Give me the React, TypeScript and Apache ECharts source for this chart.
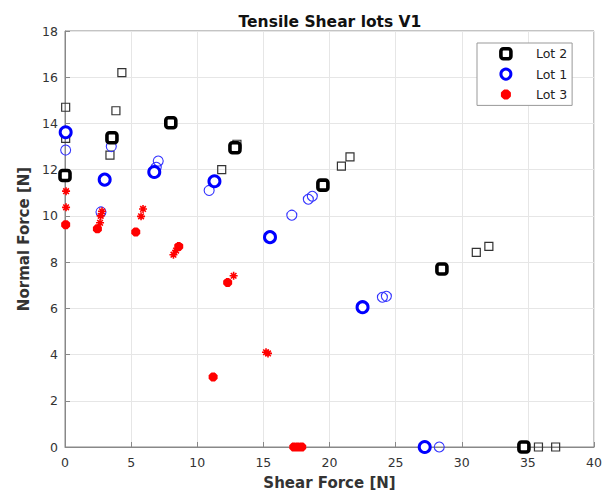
import React, { useEffect, useRef } from "react";
import * as echarts from "echarts";

const lot2Bold = [[0, 11.75], [3.55, 13.38], [8.0, 14.03], [12.85, 12.95], [19.5, 11.33], [28.5, 7.7], [34.7, 0]];
const lot2Thin = [[0.05, 14.7], [0.05, 13.35], [4.3, 16.2], [3.85, 14.55], [3.4, 12.63], [11.85, 12.0], [13.0, 13.1], [20.9, 12.15], [21.55, 12.55], [31.1, 8.42], [32.05, 8.68], [35.8, 0], [37.1, 0]];
const lot1Bold = [[0.05, 13.62], [3.0, 11.57], [6.75, 11.9], [11.3, 11.5], [15.5, 9.08], [22.5, 6.05], [27.2, 0]];
const lot1Thin = [[0.05, 12.85], [3.5, 13.0], [7.05, 12.37], [6.9, 12.1], [10.9, 11.1], [17.15, 10.03], [18.4, 10.72], [18.7, 10.85], [24.0, 6.48], [24.3, 6.52], [28.3, 0], [2.72, 10.17]];
const lot3Bold = [[0.05, 9.62], [2.45, 9.44], [5.35, 9.3], [8.6, 8.68], [12.3, 7.12], [11.2, 3.03], [17.3, 0], [17.6, 0], [17.9, 0]];
const lot3Thin = [[0.08, 11.07], [0.08, 10.37], [2.7, 10.0], [2.65, 9.7], [2.8, 10.2], [5.9, 10.3], [5.75, 9.98], [8.2, 8.32], [8.4, 8.5], [12.75, 7.41], [15.2, 4.1], [15.35, 4.05]];
const legendNames = ["Lot 2", "Lot 1", "Lot 3"];

const star = "path://M0,5L10,5M5,0L5,10M1.5,1.5L8.5,8.5M1.5,8.5L8.5,1.5";
const FONT = "DejaVu Sans, Verdana, sans-serif";

export default function App() {
  const ref = useRef<HTMLDivElement>(null);
  useEffect(() => {
    const chart = echarts.init(ref.current!, null, { renderer: "svg" });
    chart.setOption({
      animation: false,
      backgroundColor: "#fff",
      title: {
        text: "Tensile Shear lots V1",
        left: 325,
        textAlign: "center",
        top: 9,
        textStyle: { fontFamily: FONT, fontSize: 15.5, fontWeight: "bold", color: "#111" },
      },
      legend: {
        data: [
          { name: legendNames[0], icon: "roundRect", itemStyle: { color: "#fff", borderColor: "#000", borderWidth: 3.6 } },
          { name: legendNames[1], icon: "circle", itemStyle: { color: "#fff", borderColor: "#0000ff", borderWidth: 3 } },
          { name: legendNames[2], icon: star, itemStyle: { color: "#ff0000", borderColor: "#ff0000", borderWidth: 3.8 } },
        ],
        orient: "vertical",
        left: 477,
        top: 43,
        backgroundColor: "#fff",
        borderColor: "#999",
        borderWidth: 1,
        borderRadius: 0,
        padding: [4, 5, 4, 22],
        itemGap: 7,
        itemWidth: 10,
        itemHeight: 10,
        textStyle: { fontFamily: FONT, fontSize: 12.5, color: "#222", padding: [0, 0, 0, 20] },
      },
      grid: { left: 65, right: 14, top: 31, bottom: 48, show: true, borderColor: "#888", borderWidth: 1 },
      xAxis: {
        type: "value",
        min: 0,
        max: 40,
        interval: 5,
        name: "Shear Force [N]",
        nameLocation: "middle",
        nameGap: 28,
        nameTextStyle: { fontFamily: FONT, fontSize: 15, fontWeight: "bold", color: "#333" },
        axisLine: { show: true, lineStyle: { color: "#888" } },
        axisTick: { show: true, inside: true, length: 5, lineStyle: { color: "#888" } },
        axisLabel: { fontFamily: FONT, fontSize: 12.5, color: "#333", margin: 9 },
        splitLine: { show: true, lineStyle: { color: "#e6e6e6" } },
      },
      yAxis: {
        type: "value",
        min: 0,
        max: 18,
        interval: 2,
        name: "Normal Force [N]",
        nameLocation: "middle",
        nameGap: 32,
        nameTextStyle: { fontFamily: FONT, fontSize: 15, fontWeight: "bold", color: "#333" },
        axisLine: { show: true, lineStyle: { color: "#888" } },
        axisTick: { show: true, inside: true, length: 5, lineStyle: { color: "#888" } },
        axisLabel: { fontFamily: FONT, fontSize: 12.5, color: "#333", margin: 7 },
        splitLine: { show: true, lineStyle: { color: "#e6e6e6" } },
      },
      series: [
        {
          name: "Lot 2", type: "scatter", data: lot2Bold, symbol: "roundRect", symbolSize: 10, z: 3,
          itemStyle: { color: "#fff", borderColor: "#000", borderWidth: 3.6, opacity: 1 },
        },
        {
          name: "Lot 1", type: "scatter", data: lot1Bold, symbol: "circle", symbolSize: 11, z: 3,
          itemStyle: { color: "#fff", borderColor: "#0000ff", borderWidth: 3, opacity: 1 },
        },
        {
          name: "Lot 3", type: "scatter", data: lot3Bold, symbol: star, symbolSize: 9, z: 3,
          itemStyle: { color: "#ff0000", borderColor: "#ff0000", borderWidth: 3.8, opacity: 1 },
        },
        {
          name: "Lot 2", type: "scatter", data: lot2Thin, symbol: "rect", symbolSize: 8, z: 2,
          itemStyle: { color: "rgba(255,255,255,0)", borderColor: "#333", borderWidth: 1.2, opacity: 1 },
        },
        {
          name: "Lot 1", type: "scatter", data: lot1Thin, symbol: "circle", symbolSize: 10, z: 2,
          itemStyle: { color: "rgba(255,255,255,0)", borderColor: "#3333ff", borderWidth: 1.1, opacity: 1 },
        },
        {
          name: "Lot 3", type: "scatter", data: lot3Thin, symbol: star, symbolSize: 8, z: 2,
          itemStyle: { color: "rgba(255,0,0,0)", borderColor: "#ff0000", borderWidth: 1.6, opacity: 1 },
        },
      ],
    });
    return () => chart.dispose();
  }, []);
  return <div ref={ref} style={{ width: 608, height: 495, position: "absolute", left: 0, top: 0 }} />;
}
